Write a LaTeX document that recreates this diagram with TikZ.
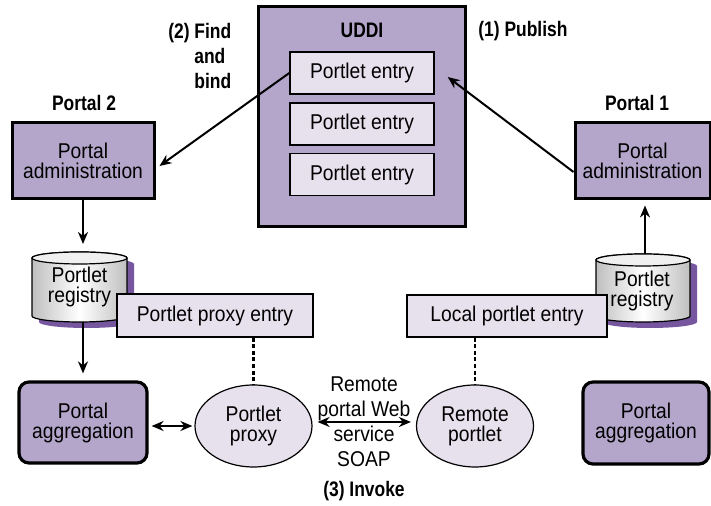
\documentclass[tikz,border=0pt]{standalone}
\usepackage{fontspec}
\setmainfont{Liberation Sans}[FakeStretch=0.9, BoldFeatures={FakeStretch=0.83}]
\usetikzlibrary{arrows.meta,shapes.geometric}
\definecolor{boxpurple}{RGB}{180,166,202}
\definecolor{entrylilac}{RGB}{231,224,237}
\definecolor{shadowpurple}{RGB}{118,86,158}

\begin{document}
\begin{tikzpicture}[x=0.5pt,y=0.5pt,
	  every node/.style={font=\fontsize{10.7}{10}\selectfont, align=center},
	  heading/.style={font=\fontsize{10.5}{12.5}\selectfont\bfseries},
	  uddibox/.style={draw, line width=1.5pt, fill=boxpurple},
	  entrybox/.style={draw, line width=0.7pt, fill=entrylilac, minimum width=72pt, minimum height=21pt, inner sep=0pt},
	  adminbox/.style={draw, line width=1.5pt, fill=boxpurple, minimum height=38pt, inner sep=0pt},
	  aggbox/.style={draw, line width=1.6pt, fill=boxpurple, rounded corners=5pt, minimum height=40.5pt, inner sep=0pt},
	  portlet/.style={draw, ellipse, line width=0.6pt, fill=entrylilac, minimum width=58.5pt, minimum height=41pt, inner sep=0pt},
	  link/.style={line width=1pt, -{Stealth[length=6pt,width=5pt]}},
	  twoway/.style={line width=1pt, {Stealth[length=6pt,width=5pt]}-{Stealth[length=6pt,width=5pt]}},
	  dotline/.style={line width=1.2pt, dash pattern=on 2pt off 1.3pt},
	  drum/.style={draw, line width=0.6pt, left color=gray!50, right color=gray!50, middle color=white}]
	  \useasboundingbox (0,0) rectangle (711,506);

	  % UDDI
	  \node[uddibox, minimum width=103.5pt, minimum height=110pt] (uddi) at (361.5,389) {};
	  \node[heading, anchor=base] (uddititle) at (362,468) {UDDI};
	  \node[entrybox] (entA) at (362,433) {Portlet entry};
	  \node[entrybox] (entB) at (362,382) {Portlet entry};
	  \node[entrybox] (entC) at (362,331.5) {Portlet entry};

	  \node[heading, anchor=north west, inner sep=0pt, align=left] (findlbl) at (194,483) {\llap{(2) }Find\\and\\bind};
	  \node[heading, anchor=base west, inner sep=0pt] (publbl) at (478,469) {(1) Publish};

	  % Portal 2
	  \node[heading, anchor=base] (ptwo) at (84,395) {Portal 2};
	  \node[adminbox, minimum width=71pt] (adminL) at (83,345) {Portal\\administration};
	  % Portal 1
	  \node[heading, anchor=base] (pone) at (637,395) {Portal 1};
	  \node[adminbox, minimum width=67.5pt] (adminR) at (642.5,345) {Portal\\administration};

	  % registries
	  \fill[shadowpurple] (39,242) -- (39,184) arc (180:360:47.5 and 6) -- (134,242) arc (0:180:47.5 and 6) -- cycle;
	  \shadedraw[drum] (32,248) -- (32,190) arc (180:360:47.5 and 6) -- (127,248) arc (0:180:47.5 and 6) -- cycle;
	  \draw[line width=0.6pt, fill=gray!12] (79.5,248) ellipse (47.5 and 6);
	  \node (regL) at (79.5,219) {Portlet\\registry};
	  \coordinate (regLtop) at (83,254);
	  \coordinate (regLbot) at (83,184);

	  \fill[shadowpurple] (603,240) -- (603,184) arc (180:360:47 and 6) -- (697,240) arc (0:180:47 and 6) -- cycle;
	  \shadedraw[drum] (596,246) -- (596,190) arc (180:360:47 and 6) -- (690,246) arc (0:180:47 and 6) -- cycle;
	  \draw[line width=0.6pt, fill=gray!12] (643,246) ellipse (47 and 6);
	  \node (regR) at (642,215) {Portlet\\registry};
	  \coordinate (regRtop) at (645,252);

	  \node[entrybox, minimum width=98pt, minimum height=21.5pt] (pxentry) at (215,190.5) {Portlet proxy entry};
	  \node[entrybox, minimum width=100pt] (lcentry) at (507,190) {Local portlet entry};

	  \node[aggbox, minimum width=64pt] (aggL) at (83,83.5) {Portal\\aggregation};
	  \node[aggbox, minimum width=63pt, minimum height=41pt] (aggR) at (646,83) {Portal\\aggregation};

	  \node[portlet] (proxy) at (253.5,80) {Portlet\\proxy};
	  \node[portlet] (remote) at (475,80) {Remote\\portlet};

	  \node[anchor=north, inner sep=0pt, font=\fontsize{10.7}{12.5}\selectfont] (soap) at (364,130) {Remote\\portal Web\\service\\SOAP};
	  \node[heading, anchor=base] (invoke) at (364,9) {(3) Invoke};

	  % connectors
	  \draw[link] (entA.west) -- ([xshift=2pt,yshift=-2.5pt]adminL.east);
	  \draw[link] ([yshift=-5.5pt]adminR.west) -- ([xshift=6.5pt,yshift=-2pt]entA.east);
	  \draw[link, shorten >=4pt] (adminL.south) -- (regLtop);
	  \draw[link, shorten >=2.5pt] (regRtop) -- (regRtop |- adminR.south);
	  \draw[link, shorten >=3.5pt] (regLbot) -- (aggL.north);
	  \draw[dotline] (pxentry.south -| proxy.north) -- (proxy.north);
	  \draw[dotline] (lcentry.south -| remote.north) -- (remote.north);
	  \draw[twoway, shorten <=1.5pt, shorten >=1pt] (proxy.west -| aggL.east) -- (proxy.west);
	  \draw[twoway, shorten <=2.5pt, shorten >=2.5pt] ([yshift=2pt]proxy.east) -- ([yshift=2pt]remote.west);
	\end{tikzpicture}
\end{document}
